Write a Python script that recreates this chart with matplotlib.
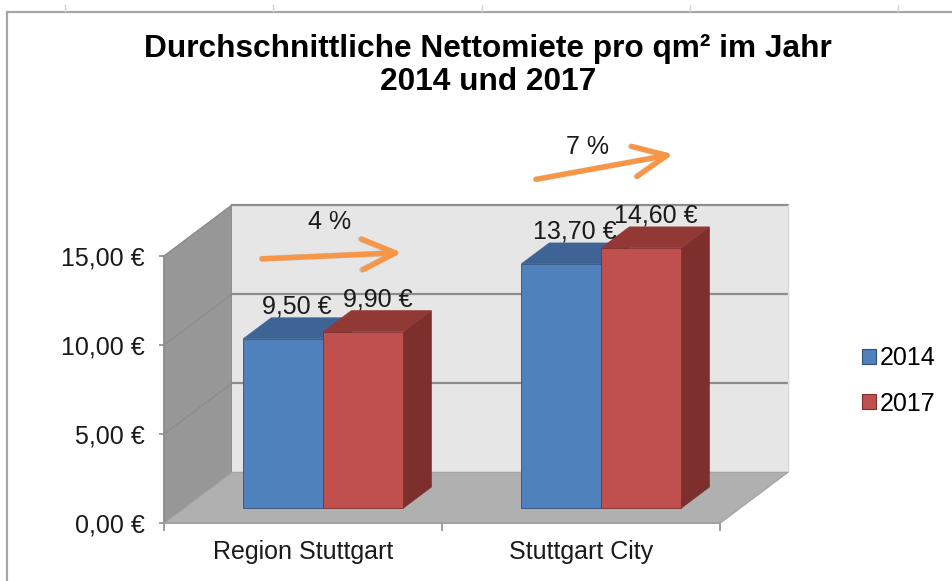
import matplotlib
matplotlib.use('Agg')
import matplotlib.pyplot as plt
from matplotlib.patches import Polygon, Patch
from matplotlib.lines import Line2D

plt.rcParams['font.family'] = ['Liberation Sans', 'DejaVu Sans']

# ---------------- data ----------------
categories = ['Region Stuttgart', 'Stuttgart City']
years = ['2014', '2017']
rent_2014 = [9.50, 13.70]
rent_2017 = [9.90, 14.60]
y_ticks = [0, 5, 10, 15]
y_tick_labels = ['0,00 €', '5,00 €', '10,00 €', '15,00 €']
title = 'Durchschnittliche Nettomiete pro qm² im Jahr\n2014 und 2017'

series = [rent_2014, rent_2017]
front_colors = ['#4f81bd', '#c0504d']
top_colors = ['#3d6494', '#923936']
side_colors = ['#2f4f78', '#7c2f2d']

# ---------------- figure / axes ----------------
W, H, DPI = 953, 581, 100
fig = plt.figure(figsize=(W / DPI, H / DPI), dpi=DPI)
fig.patch.set_facecolor('white')

X0, Y0 = 164.0, 523.3     # pixel position of data origin (front plane)
PX_X, PX_Y = 278.0, 17.82  # pixels per category / per euro
right_px, top_px = 800.0, 130.0
ax = fig.add_axes([X0 / W, (H - Y0) / H, (right_px - X0) / W, (Y0 - top_px) / H])
ax.set_xlim(0, (right_px - X0) / PX_X)
ax.set_ylim(0, (Y0 - top_px) / PX_Y)
ax.set_facecolor('none')

n_cat = len(categories)
YMAX = y_ticks[-1]
DX, DY = 68 / PX_X, 51 / PX_Y       # depth of the 3D box in data units
BAR_W = 0.288                       # bar width in category units
D_FRONT, D_THICK = 0.30, 0.41       # bar position within depth

# walls and floor
side_wall = Polygon([(0, 0), (0, YMAX), (DX, YMAX + DY), (DX, DY)],
                    closed=True, fc='#979797', ec='#8a8a8a', lw=0.8, zorder=1)
back_wall = Polygon([(DX, DY), (n_cat + DX, DY), (n_cat + DX, YMAX + DY), (DX, YMAX + DY)],
                    closed=True, fc='#e6e6e6', ec='none', zorder=1)
floor = Polygon([(0, 0), (n_cat, 0), (n_cat + DX, DY), (DX, DY)],
                closed=True, fc='#b0b0b0', ec='#a0a0a0', lw=0.8, zorder=2)
for p in (side_wall, back_wall, floor):
    p.set_clip_on(False)
    ax.add_patch(p)

for v in y_ticks[1:]:
    ax.plot([DX, n_cat + DX], [v + DY, v + DY], color='#8c8c8c', lw=1.6, zorder=1.5,
            clip_on=False)
    ax.plot([0, DX], [v, v + DY], color='#8a8a8a', lw=0.7, zorder=1.5, clip_on=False)
ax.plot([n_cat + DX, n_cat + DX], [DY, YMAX + DY], color='#d8d8d8', lw=1, zorder=1.5,
        clip_on=False)

# bars
ox, oy = D_FRONT * DX, D_FRONT * DY
tx, ty = D_THICK * DX, D_THICK * DY
for i in range(n_cat):
    for j, vals in enumerate(series):
        v = vals[i]
        x0 = i + 0.5 - BAR_W + j * BAR_W + ox
        x1 = x0 + BAR_W
        side = Polygon([(x1, oy), (x1, v + oy), (x1 + tx, v + oy + ty), (x1 + tx, oy + ty)],
                       closed=True, fc=side_colors[j], ec=side_colors[j], lw=0.5, zorder=3)
        top = Polygon([(x0, v + oy), (x1, v + oy), (x1 + tx, v + oy + ty), (x0 + tx, v + oy + ty)],
                      closed=True, fc=top_colors[j], ec=top_colors[j], lw=0.5, zorder=3)
        front = Polygon([(x0, oy), (x1, oy), (x1, v + oy), (x0, v + oy)],
                        closed=True, fc=front_colors[j], ec=side_colors[j], lw=0.6, zorder=3)
        for p in (side, top, front):
            ax.add_patch(p)
        label = f'{v:.2f}'.replace('.', ',') + ' €'
        ax.annotate(label, xy=((x0 + x1) / 2 + tx / 2, v + oy + ty), xytext=(0, 3),
                    textcoords='offset points', ha='center', va='baseline',
                    fontsize=18, color='#1a1a1a', zorder=5, annotation_clip=False)

# growth arrows with percentage
arrow_tail = [(0.3525, 14.84), (1.338, 19.30)]
arrow_tip = [(0.856, 15.19), (1.832, 20.71)]
pct_pos = [(0.597, 16.92), (1.522, 21.09)]
arrow_style = '->,head_length=1.2,head_width=0.55'
for i in range(n_cat):
    pct = round((rent_2017[i] / rent_2014[i] - 1) * 100)
    # soft shadow
    ax.annotate('', xy=arrow_tip[i], xytext=arrow_tail[i],
                arrowprops=dict(arrowstyle=arrow_style, mutation_scale=20, lw=4.4,
                                color='#000000', alpha=0.10, shrinkA=0, shrinkB=0,
                                capstyle='round', joinstyle='round'),
                xycoords=ax.transData, annotation_clip=False, zorder=5.5)
    ax.annotate('', xy=arrow_tip[i], xytext=arrow_tail[i],
                arrowprops=dict(arrowstyle=arrow_style, mutation_scale=20, lw=3.8,
                                color='#f79646', shrinkA=0, shrinkB=0),
                annotation_clip=False, zorder=6)
    ax.text(pct_pos[i][0], pct_pos[i][1], f'{pct} %', ha='center', va='center',
            fontsize=18, color='#1a1a1a', zorder=6)

# axes styling
for s in ('top', 'right'):
    ax.spines[s].set_visible(False)
ax.spines['left'].set_bounds(0, YMAX)
ax.spines['left'].set_color('#8c8c8c')
ax.spines['bottom'].set_bounds(0, n_cat)
ax.spines['bottom'].set_color('#a0a0a0')
for s in ('left', 'bottom'):
    ax.spines[s].set_linewidth(1.2)
    ax.spines[s].set_zorder(2.5)

ax.set_yticks(y_ticks)
ax.set_yticklabels(y_tick_labels)
ax.tick_params(axis='y', length=3.6, width=1.2, color='#8c8c8c', pad=10.5,
               labelsize=18, labelcolor='#1a1a1a')
ax.set_xticks(range(n_cat + 1))
ax.set_xticklabels([''] * (n_cat + 1))
ax.tick_params(axis='x', which='major', length=5.8, width=1.2, color='#8c8c8c')
ax.set_xticks([i + 0.5 for i in range(n_cat)], minor=True)
ax.set_xticklabels(categories, minor=True)
ax.tick_params(axis='x', which='minor', length=0, pad=12, labelsize=18,
               labelcolor='#1a1a1a')

# legend
handles = [Patch(fc=front_colors[j], ec=side_colors[j], lw=0.8) for j in range(len(years))]
fig.legend(handles, years, loc='center left', bbox_to_anchor=(862 / W, 1 - 381 / H),
           frameon=False, fontsize=18, handlelength=0.55, handleheight=0.55,
           handletextpad=0.15, labelspacing=0.85, borderpad=0, borderaxespad=0)

# title
fig.text(488 / W, 1 - 34 / H, title, ha='center', va='top', fontsize=22.8,
         fontweight='bold', color='#000000', linespacing=1.12)

# chart frame and faint spreadsheet grid marks
fig.add_artist(Line2D([7 / W, 7 / W], [0, 1 - 12 / H], transform=fig.transFigure,
                      color='#a6a6a6', lw=1.6))
fig.add_artist(Line2D([7 / W, 1], [1 - 12 / H, 1 - 12 / H], transform=fig.transFigure,
                      color='#a6a6a6', lw=1.6))
for gx in (65, 273, 482, 690, 898):
    fig.add_artist(Line2D([gx / W, gx / W], [1 - 5 / H, 1 - 11 / H], transform=fig.transFigure,
                          color='#d4d4d4', lw=1))

fig.savefig('out.png', dpi=DPI)
